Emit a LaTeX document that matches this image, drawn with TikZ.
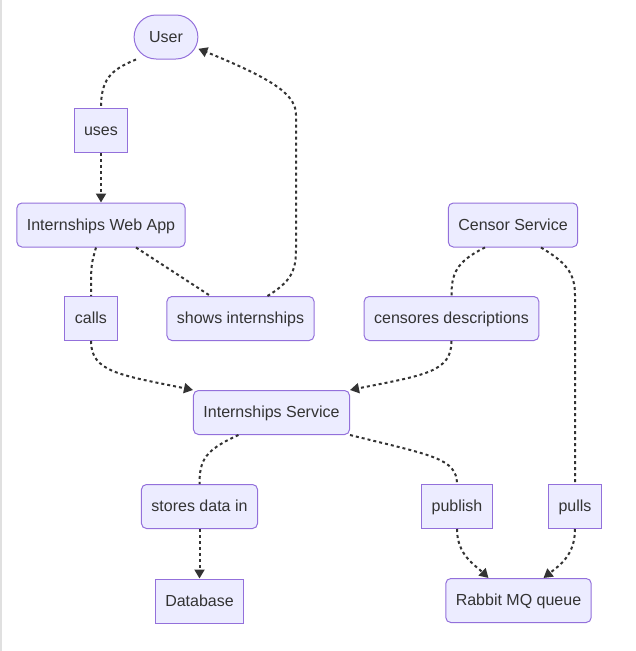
\documentclass[tikz,border=0pt]{standalone}
\usepackage{fontspec}
\setmainfont{Liberation Sans}
\usepackage{xcolor}
\usepackage{tikz}
\usetikzlibrary{arrows.meta,positioning}
\definecolor{boxfill}{HTML}{ECECFF}
\definecolor{boxline}{HTML}{9370DB}
\definecolor{ink}{HTML}{333333}

\begin{document}
\begin{tikzpicture}[x=1pt,y=-1pt,node distance=49.5pt,>={Triangle[length=9pt,width=10pt]},font=\fontsize{16}{19}\selectfont]
\tikzstyle{box}=[rectangle,draw=boxline,fill=boxfill,text=ink,line width=1pt,inner xsep=10pt,inner ysep=0pt,text height=11.5pt,text depth=1.5pt,minimum height=44pt]
\tikzstyle{rbox}=[box,rounded corners=5pt]
\tikzstyle{pill}=[box,rounded corners=22pt,inner xsep=15pt]
\tikzstyle{flow}=[draw=ink,line width=2pt,dash pattern=on 3pt off 3pt]
\useasboundingbox (0,0) rectangle (635,651);
\draw[black!12,line width=2pt] (1,0) -- (1,651);
\node[pill] (user) at (166,37) {User};
\node[box] (uses) at (101,130.5) {uses};
\node[rbox,below=of uses] (webapp) {Internships Web App};
\node[box] (calls) at (91,318.5) {calls};
\node[rbox] (shows) at (240.5,318.5) {shows internships};
\node[rbox] (censor) at (513,225) {Censor Service};
\node[rbox] (censores) at (451.5,318.5) {censores descriptions};
\node[rbox] (intservice) at (271.5,412.5) {Internships Service};
\node[rbox] (stores) at (199.5,506.5) {stores data in};
\node[box,below=of stores] (db) {Database};
\node[box] (publish) at (457,506.5) {publish};
\node[box] (pulls) at (575,506.5) {pulls};
\node[rbox] (rabbit) at (518.5,600.5) {Rabbit MQ queue};
\draw[flow] ([xshift=-30pt]user.south) .. controls (110,70) and (101,80) .. (uses.north);
\draw[flow,->] (uses) -- (webapp);
\draw[flow] ([xshift=-5pt]webapp.south) .. controls (91,265) .. (calls.north);
\draw[flow,->] (calls.south) .. controls (91,372) and (120,375) .. (intservice.north west);
\draw[flow] ([xshift=35pt]webapp.south) -- ([xshift=-30pt]shows.north);
\draw[flow,->] ([xshift=27pt]shows.north) .. controls (290,282) and (296,272) .. (296,250) -- (296,115) .. controls (296,95) and (275,80) .. (user.-20);
\draw[flow] ([xshift=-28pt]censor.south) .. controls (455,262) and (451.5,275) .. (censores.north);
\draw[flow,->] (censores.south) .. controls (451.5,372) and (425,375) .. (intservice.north east);
\draw[flow] ([xshift=28pt]censor.south) .. controls (565,262) and (575,272) .. (575,295) -- (pulls.north);
\draw[flow,->] (pulls.south) .. controls (575,555) and (560,565) .. ([xshift=25pt]rabbit.north);
\draw[flow] ([xshift=-33pt]intservice.south) .. controls (205,450) and (199.5,460) .. (stores.north);
\draw[flow,->] (stores) -- (db);
\draw[flow] (intservice.south east) .. controls (430,455) and (457,458) .. (publish.north);
\draw[flow,->] (publish.south) .. controls (457,555) and (475,565) .. ([xshift=-30pt]rabbit.north);
\end{tikzpicture}
\end{document}
